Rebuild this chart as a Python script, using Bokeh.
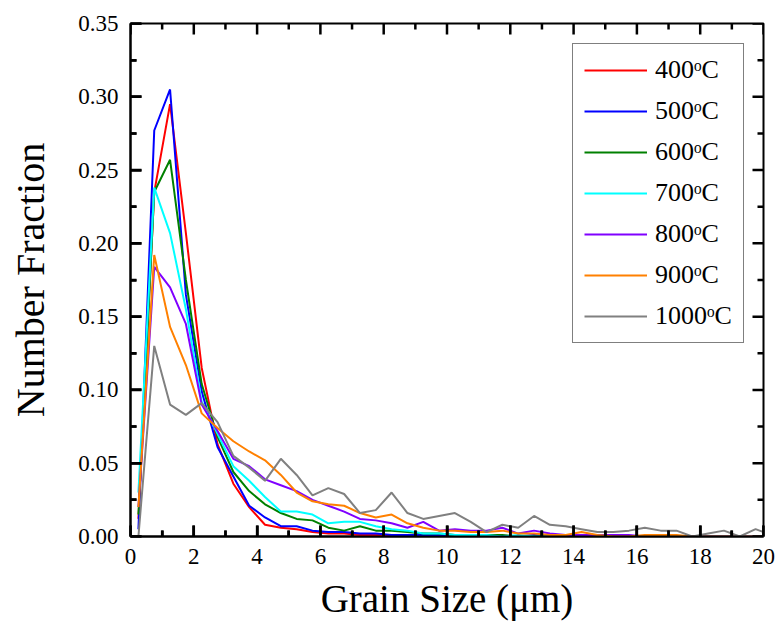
from bokeh.plotting import figure
from bokeh.models import (Range1d, FixedTicker, NumeralTickFormatter, Legend, LegendItem,
                          ColumnDataSource)
from bokeh.embed import file_html
from bokeh.resources import INLINE

grain_size = [0.25, 0.75, 1.25, 1.75, 2.25, 2.75, 3.25, 3.75, 4.25, 4.75,
              5.25, 5.75, 6.25, 6.75, 7.25, 7.75, 8.25, 8.75, 9.25, 9.75,
              10.25, 10.75, 11.25, 11.75, 12.25, 12.75, 13.25, 13.75, 14.25, 14.75,
              15.25, 15.75, 16.25, 16.75, 17.25, 17.75, 18.25, 18.75, 19.25, 19.75,
              20.25]

t400 = [0.012, 0.235, 0.295, 0.207, 0.115, 0.063, 0.036, 0.020, 0.008, 0.006,
        0.005, 0.003, 0.002, 0.002, 0.001, 0.001, 0.001, 0.000, 0.001, 0.000,
        0.000, 0.000, 0.000, 0.000, 0.000, 0.000, 0.000, 0.000, 0.000, 0.000,
        0.000, 0.000, 0.000, 0.000, 0.000, 0.000, 0.000, 0.000, 0.000, 0.000,
        0.000]
t500 = [0.005, 0.277, 0.305, 0.165, 0.099, 0.061, 0.041, 0.021, 0.013, 0.007,
        0.007, 0.004, 0.003, 0.003, 0.002, 0.002, 0.001, 0.001, 0.001, 0.001,
        0.000, 0.000, 0.000, 0.000, 0.000, 0.001, 0.000, 0.000, 0.000, 0.000,
        0.000, 0.000, 0.000, 0.000, 0.000, 0.000, 0.000, 0.000, 0.000, 0.000,
        0.000]
t600 = [0.015, 0.235, 0.257, 0.175, 0.104, 0.068, 0.044, 0.031, 0.022, 0.016,
        0.012, 0.011, 0.006, 0.004, 0.007, 0.004, 0.004, 0.003, 0.002, 0.002,
        0.001, 0.001, 0.001, 0.001, 0.000, 0.000, 0.000, 0.000, 0.000, 0.000,
        0.000, 0.000, 0.000, 0.000, 0.000, 0.000, 0.000, 0.000, 0.000, 0.000,
        0.000]
t700 = [0.030, 0.238, 0.207, 0.155, 0.092, 0.070, 0.048, 0.038, 0.027, 0.017,
        0.017, 0.015, 0.009, 0.010, 0.010, 0.007, 0.005, 0.004, 0.002, 0.002,
        0.001, 0.001, 0.001, 0.000, 0.001, 0.000, 0.000, 0.000, 0.000, 0.000,
        0.000, 0.000, 0.000, 0.000, 0.000, 0.000, 0.000, 0.000, 0.000, 0.000,
        0.000]
t800 = [0.020, 0.184, 0.170, 0.145, 0.090, 0.072, 0.053, 0.048, 0.039, 0.035,
        0.031, 0.025, 0.021, 0.017, 0.012, 0.011, 0.009, 0.006, 0.010, 0.004,
        0.005, 0.004, 0.004, 0.006, 0.002, 0.004, 0.002, 0.001, 0.001, 0.001,
        0.001, 0.001, 0.000, 0.000, 0.000, 0.000, 0.000, 0.000, 0.000, 0.000,
        0.000]
t900 = [0.020, 0.192, 0.143, 0.117, 0.084, 0.074, 0.065, 0.058, 0.052, 0.042,
        0.030, 0.024, 0.022, 0.021, 0.016, 0.013, 0.015, 0.009, 0.006, 0.004,
        0.004, 0.003, 0.003, 0.004, 0.002, 0.002, 0.001, 0.001, 0.003, 0.001,
        0.000, 0.000, 0.001, 0.001, 0.001, 0.000, 0.000, 0.000, 0.000, 0.000,
        0.000]
t1000 = [0.000, 0.130, 0.090, 0.083, 0.091, 0.078, 0.055, 0.047, 0.038, 0.053,
         0.042, 0.028, 0.033, 0.029, 0.016, 0.018, 0.030, 0.016, 0.012, 0.014,
         0.016, 0.010, 0.003, 0.008, 0.006, 0.014, 0.008, 0.007, 0.005, 0.003,
         0.003, 0.004, 0.006, 0.004, 0.004, 0.000, 0.002, 0.004, 0.000, 0.005,
         0.001]

labels = ["400ᵒC", "500ᵒC", "600ᵒC", "700ᵒC", "800ᵒC", "900ᵒC", "1000ᵒC"]
series = [t400, t500, t600, t700, t800, t900, t1000]
colors = ["#FF0000", "#0000FF", "#008000", "#00FFFF", "#8000FF", "#FF8000", "#808080"]

x_major = [0, 2, 4, 6, 8, 10, 12, 14, 16, 18, 20]
x_minor = [1, 3, 5, 7, 9, 11, 13, 15, 17, 19]
y_major = [0.0, 0.05, 0.10, 0.15, 0.20, 0.25, 0.30, 0.35]
y_minor = [0.025, 0.075, 0.125, 0.175, 0.225, 0.275, 0.325]
x_lo, x_hi = 0, 20
y_lo, y_hi = 0.0, 0.35

FONT = "Liberation Serif"
W, H = 780, 632
BL, BR, BT, BB = 130, 17, 23, 96

p = figure(width=W, height=H, output_backend="svg", toolbar_location=None,
           x_range=Range1d(x_lo, x_hi), y_range=Range1d(y_lo, y_hi),
           min_border_left=BL, min_border_right=BR, min_border_top=BT, min_border_bottom=BB)
p.xgrid.visible = False
p.ygrid.visible = False
p.outline_line_color = "black"
p.outline_line_width = 2

for ax in (p.xaxis[0], p.yaxis[0]):
    ax.axis_line_width = 2
    ax.axis_line_color = "black"
    ax.major_tick_in = 11
    ax.major_tick_out = 0
    ax.minor_tick_in = 6
    ax.minor_tick_out = 0
    ax.major_tick_line_width = 2.5
    ax.minor_tick_line_width = 2.5
    ax.major_tick_line_color = "black"
    ax.minor_tick_line_color = "black"
    ax.major_label_text_font = FONT
    ax.major_label_text_font_size = "23px"
    ax.major_label_text_color = "black"
    ax.axis_label_text_font = FONT
    ax.axis_label_text_font_style = "normal"
    ax.axis_label_text_color = "black"

p.xaxis.ticker = FixedTicker(ticks=x_major, minor_ticks=x_minor)
p.yaxis.ticker = FixedTicker(ticks=y_major, minor_ticks=y_minor)
p.yaxis.formatter = NumeralTickFormatter(format="0.00")
p.xaxis.axis_label = "Grain Size (μm)"
p.yaxis.axis_label = "Number Fraction"
p.xaxis.axis_label_text_font_size = "39px"
p.yaxis.axis_label_text_font_size = "40px"
p.xaxis.major_label_standoff = 12
p.yaxis.major_label_standoff = 12
p.xaxis.axis_label_standoff = 10
p.yaxis.axis_label_standoff = 22

items = []
for lab, ys, c in zip(labels, series, colors):
    r = p.line(grain_size, ys, line_color=c, line_width=2)
    items.append(LegendItem(label=lab, renderers=[r]))

# inward ticks on all four edges, drawn from the tick lists (pixel length -> data units)
dx = (x_hi - x_lo) / (W - BL - BR)
dy = (y_hi - y_lo) / (H - BT - BB)
MAJ, MIN = 11, 6

def vticks(xs, y0, sign, n_px):
    src = ColumnDataSource(dict(xa=list(xs), xb=list(xs),
                                ya=[float(y0)] * len(xs),
                                yb=[float(y0 + sign * n_px * dy)] * len(xs)))
    p.segment(x0="xa", y0="ya", x1="xb", y1="yb", source=src,
              line_color="black", line_width=2.5)

def hticks(ys, x0, sign, n_px):
    src = ColumnDataSource(dict(ya=list(ys), yb=list(ys),
                                xa=[float(x0)] * len(ys),
                                xb=[float(x0 + sign * n_px * dx)] * len(ys)))
    p.segment(x0="xa", y0="ya", x1="xb", y1="yb", source=src,
              line_color="black", line_width=2.5)

vticks(x_major, y_lo, 1, MAJ)
vticks(x_minor, y_lo, 1, MIN)
vticks(x_major, y_hi, -1, MAJ)
vticks(x_minor, y_hi, -1, MIN)
hticks(y_major, x_lo, 1, MAJ)
hticks(y_minor, x_lo, 1, MIN)
hticks(y_major, x_hi, -1, MAJ)
hticks(y_minor, x_hi, -1, MIN)

legend = Legend(items=items, location=(442, 193))
legend.label_text_font = FONT
legend.label_text_font_size = "26px"
legend.label_text_color = "black"
legend.glyph_width = 63
legend.glyph_height = 30
legend.label_height = 30
legend.label_standoff = 8
legend.spacing = 11
legend.padding = 11
legend.margin = 0
legend.border_line_color = "black"
legend.border_line_width = 1.5
legend.background_fill_alpha = 1.0
p.add_layout(legend)

open("out.html", "w").write(file_html(p, INLINE))
